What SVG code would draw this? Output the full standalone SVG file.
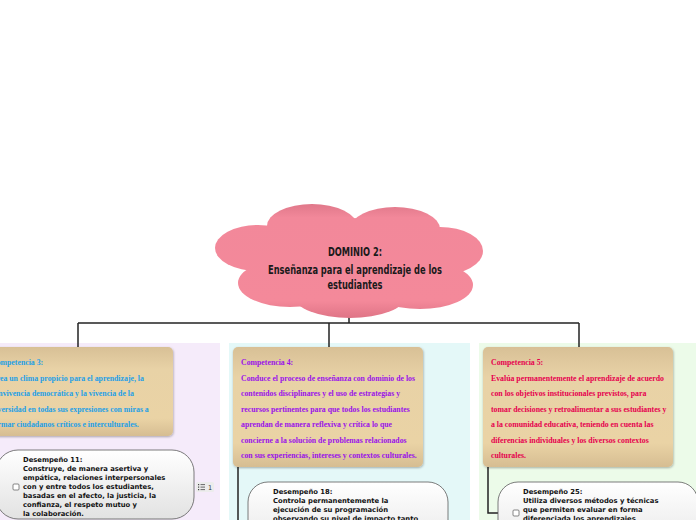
<svg xmlns="http://www.w3.org/2000/svg" width="696" height="520" viewBox="0 0 696 520">
<style>
.title{font-family:"DejaVu Sans Condensed","DejaVu Sans",sans-serif;font-weight:bold;font-size:12.5px;fill:#1a1a1a;text-anchor:middle}
.comp{font-family:"Liberation Serif","Times New Roman",serif;font-weight:bold;font-size:7.8px}
.c3{fill:#1ea0e6}.c4{fill:#9a12e8}.c5{fill:#e6004e}
.des{font-family:"DejaVu Sans",Verdana,sans-serif;font-weight:bold;font-size:6.8px;fill:#111}
.cbox{fill:url(#tan);filter:url(#sh)}
.dbox{fill:url(#wg);stroke:#5a5a5a;stroke-width:0.8}
.chk{fill:#fff;stroke:#555;stroke-width:0.7}
.conn line,.conn polyline{stroke:#222;stroke-width:1.5;fill:none}
</style>
<defs>
<linearGradient id="pink" gradientUnits="userSpaceOnUse" x1="0" y1="204" x2="0" y2="318">
<stop offset="0" stop-color="#e0788a"/><stop offset="0.12" stop-color="#f2889a"/><stop offset="0.85" stop-color="#f4899a"/><stop offset="1" stop-color="#df7486"/>
</linearGradient>
<linearGradient id="tan" x1="0" y1="0" x2="0" y2="1">
<stop offset="0" stop-color="#d8c096"/><stop offset="0.25" stop-color="#e8d2a6"/><stop offset="0.8" stop-color="#ead3a5"/><stop offset="1" stop-color="#d6bd92"/>
</linearGradient>
<linearGradient id="wg" x1="0" y1="0" x2="0" y2="1">
<stop offset="0" stop-color="#ffffff"/><stop offset="1" stop-color="#e2e2e2"/>
</linearGradient>
<filter id="sh" x="-5%" y="-5%" width="110%" height="115%">
<feDropShadow dx="0.5" dy="1" stdDeviation="1" flood-color="#000" flood-opacity="0.3"/>
</filter>
</defs>

<rect width="696" height="520" fill="#ffffff"/>

<!-- panels -->
<rect x="-21" y="343" width="241" height="180" fill="#f5ebfa"/>
<rect x="229" y="343" width="241" height="180" fill="#e4f8f8"/>
<rect x="479" y="343" width="241" height="180" fill="#ecfbe9"/>

<g class="conn" id="connectors">
<line x1="349" y1="316" x2="349" y2="323"/>
<line x1="78" y1="323" x2="579" y2="323"/>
<line x1="78" y1="323" x2="78" y2="347"/>
<line x1="329" y1="323" x2="329" y2="347"/>
<line x1="579" y1="323" x2="579" y2="347"/>
<line x1="238" y1="467" x2="238" y2="522"/>
<polyline points="488,467 488,513 498,513"/>
</g>

<g id="root">
<g fill="url(#pink)">
<ellipse cx="258" cy="248" rx="43" ry="23"/>
<ellipse cx="312" cy="226" rx="45" ry="22"/>
<ellipse cx="395" cy="229" rx="45" ry="22"/>
<ellipse cx="440" cy="251" rx="43" ry="24"/>
<ellipse cx="290" cy="283" rx="52" ry="24"/>
<ellipse cx="350" cy="296" rx="56" ry="22"/>
<ellipse cx="420" cy="285" rx="53" ry="24"/>
<ellipse cx="350" cy="260" rx="105" ry="42"/>
</g>
<text class="title" x="355" y="256" textLength="54" lengthAdjust="spacingAndGlyphs">DOMINIO 2:</text>
<text class="title" x="355" y="274" textLength="174" lengthAdjust="spacingAndGlyphs">Enseñanza para el aprendizaje de los</text>
<text class="title" x="355" y="289" textLength="55" lengthAdjust="spacingAndGlyphs">estudiantes</text>
</g>

<g id="comp3">
<rect class="cbox" x="-17" y="347" width="190" height="89" rx="5"/>
<text class="comp c3"><tspan x="-9" y="365">Competencia 3:</tspan><tspan x="-9" y="380.5">Crea un clima propicio para el aprendizaje, la</tspan><tspan x="-9" y="396">convivencia democrática y la vivencia de la</tspan><tspan x="-9" y="411.5">diversidad en todas sus expresiones con miras a</tspan><tspan x="-9" y="427">formar ciudadanos críticos e interculturales.</tspan></text>
</g>

<g id="comp4">
<rect class="cbox" x="233" y="347" width="190" height="120" rx="5"/>
<text class="comp c4"><tspan x="241" y="365">Competencia 4:</tspan><tspan x="241" y="380.5">Conduce el proceso de enseñanza con dominio de los</tspan><tspan x="241" y="396">contenidos disciplinares y el uso de estrategias y</tspan><tspan x="241" y="411.5">recursos pertinentes para que todos los estudiantes</tspan><tspan x="241" y="427">aprendan de manera reflexiva y crítica lo que</tspan><tspan x="241" y="442.5">concierne a la solución de problemas relacionados</tspan><tspan x="241" y="458">con sus experiencias, intereses y contextos culturales.</tspan></text>
</g>

<g id="comp5">
<rect class="cbox" x="483" y="347" width="190" height="120" rx="5"/>
<text class="comp c5"><tspan x="491" y="365">Competencia 5:</tspan><tspan x="491" y="380.5">Evalúa permanentemente el aprendizaje de acuerdo</tspan><tspan x="491" y="396">con los objetivos institucionales previstos, para</tspan><tspan x="491" y="411.5">tomar decisiones y retroalimentar a sus estudiantes y</tspan><tspan x="491" y="427">a la comunidad educativa, teniendo en cuenta las</tspan><tspan x="491" y="442.5">diferencias individuales y los diversos contextos</tspan><tspan x="491" y="458">culturales.</tspan></text>
</g>

<g id="des11">
<rect class="dbox" x="-4" y="450" width="198" height="69" rx="22"/>
<rect class="chk" x="13" y="484" width="6" height="6" rx="1"/>
<text class="des"><tspan x="23" y="462">Desempeño 11:</tspan><tspan x="23" y="471">Construye, de manera asertiva y</tspan><tspan x="23" y="480">empática, relaciones interpersonales</tspan><tspan x="23" y="489">con y entre todos los estudiantes,</tspan><tspan x="23" y="498">basadas en el afecto, la justicia, la</tspan><tspan x="23" y="507">confianza, el respeto mutuo y</tspan><tspan x="23" y="516">la colaboración.</tspan></text>
<g id="des11-list">
<rect x="196" y="482" width="18" height="10" rx="1.5" fill="#ececec"/>
<g fill="#444"><rect x="198" y="484" width="1.2" height="1.2"/><rect x="198" y="486.5" width="1.2" height="1.2"/><rect x="198" y="489" width="1.2" height="1.2"/></g>
<g stroke="#444" stroke-width="0.8"><line x1="200.5" y1="484.6" x2="205" y2="484.6"/><line x1="200.5" y1="487.1" x2="205" y2="487.1"/><line x1="200.5" y1="489.6" x2="205" y2="489.6"/></g>
<text x="208" y="490" font-family="DejaVu Sans,sans-serif" font-size="6.5" fill="#333">1</text>
</g>
</g>

<g id="des18">
<rect class="dbox" x="248" y="482" width="200" height="80" rx="20"/>
<text class="des"><tspan x="273" y="494">Desempeño 18:</tspan><tspan x="273" y="503">Controla permanentemente la</tspan><tspan x="273" y="512">ejecución de su programación</tspan><tspan x="273" y="521">observando su nivel de impacto tanto</tspan></text>
</g>

<g id="des25">
<rect class="dbox" x="498" y="482" width="200" height="80" rx="20"/>
<rect class="chk" x="513" y="510" width="6" height="6" rx="1"/>
<text class="des"><tspan x="523" y="494">Desempeño 25:</tspan><tspan x="523" y="503">Utiliza diversos métodos y técnicas</tspan><tspan x="523" y="512">que permiten evaluar en forma</tspan><tspan x="523" y="521">diferenciada los aprendizajes</tspan></text>
</g>
</svg>
